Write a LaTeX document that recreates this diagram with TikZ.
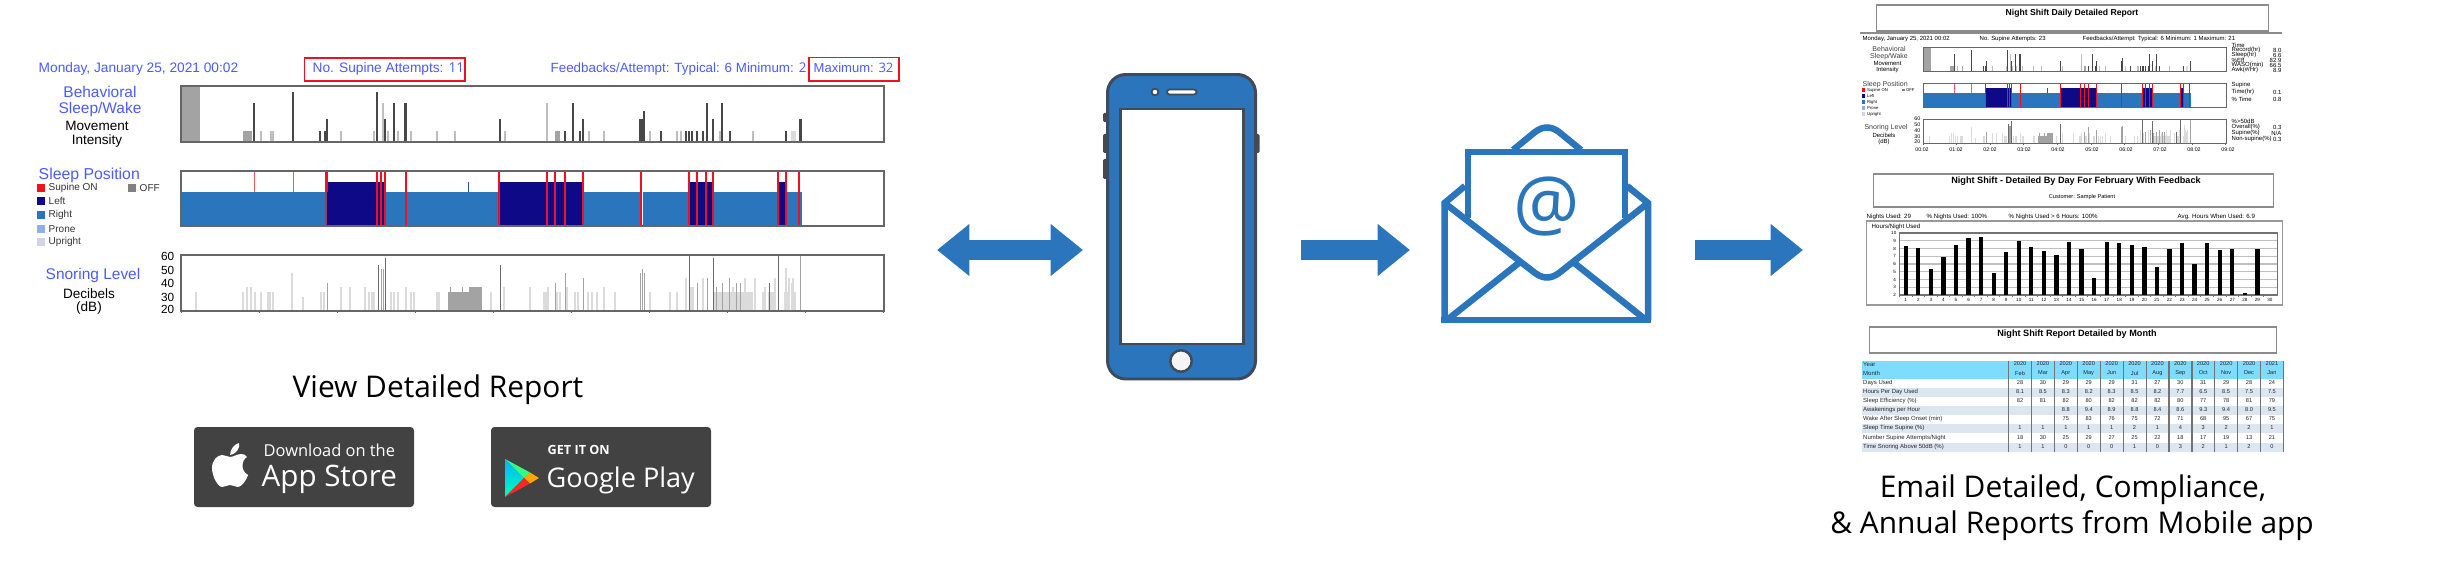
\documentclass[tikz,border=0pt]{standalone}
\usepackage{fontspec}
\setmainfont{Liberation Sans}
\newfontfamily\opensans{Open Sans}
\usetikzlibrary{positioning, calc, arrows.meta}

\definecolor{flowblue}{HTML}{2A75BB}
\definecolor{phonedark}{HTML}{3F4A5A}
\definecolor{labelblue}{HTML}{4A5BFF}
\definecolor{leftnavy}{HTML}{0E0A87}
\definecolor{supinered}{HTML}{F20F1E}
\definecolor{offgrey}{HTML}{808080}
\definecolor{proneblue}{HTML}{8FB0E0}
\definecolor{uprightgrey}{HTML}{D0D4E4}
\definecolor{badgegrey}{HTML}{424242}
\definecolor{headcyan}{HTML}{7FDCFF}
\definecolor{bandblue}{HTML}{DCE6F1}

\newcommand{\pxfont}[1]{\fontsize{#1}{#1}\selectfont}

\tikzset{
	txt/.style={inner sep=0, align=center},
	chartframe/.style={draw=black!60, line width=.4pt},
	barlight/.style={fill=black!14},
	barmid/.style={fill=black!36},
	bardark/.style={fill=black!72},
	bigarrow/.style={draw=flowblue, line width=5.97pt, -{Triangle[length=9.2pt, width=14.2pt]}},
	phonepart/.style={draw=phonedark, line width=.85pt},
	mailline/.style={draw=flowblue, line width=1.85pt, line join=miter},
	reportbox/.style={draw=black!45, line width=.3pt},
	badge/.style={fill=badgegrey, rounded corners=1pt},
}

% the three charts of the sleep report, in reference pixels
\newcommand{\nightcharts}{
	% movement
	\fill[barmid] (181,86) rectangle (200,142);
	\fill[barmid] (243,131) rectangle (252,142);
	\fill[barmid] (555,131) rectangle (560,142);
	\fill[barlight] (791,131) rectangle (796,142);
	\foreach \x/\t in {261/131,271/131,273/131,341/131,374/131,383/103,388/131,398/131,411/131,437/131,455/131,505/131,547/103,589/131,604/131,650/131,677/131,681/131,720/131,753/131} {
		\fill[barmid, opacity=.7] (\x-.6,\t) rectangle (\x+.6,142);
	}
	\foreach \x/\t in {254/103,293/92,320/131,325/131,327/119,377/92,385/119,394/103,405/103,406/103,500/119,565/131,573/103,580/131,583/119,640/119,642/119,644/111,661/131,686/131,689/131,692/131,697/131,703/131,707/103,713/119,722/103,730/131,786/131,800/119,801/119} {
		\fill[bardark] (\x-.7,\t) rectangle (\x+.7,142);
	}
	\draw[chartframe] (181,86) rectangle (884,142);
	% position
	\fill[flowblue] (181,192) rectangle (640,226);
	\fill[flowblue] (643,192) rectangle (802,226);
	\foreach \xa/\xb in {327/385,499/583,688/713,778/786} {
		\fill[leftnavy] (\xa,182) rectangle (\xb,226);
	}
	\fill[flowblue!70!leftnavy] (467.5,182) rectangle (468.5,192);
	\foreach \x in {254,293} {
		\fill[supinered!70] (\x-.5,172) rectangle (\x+.5,192);
	}
	\fill[supinered] (325,172) rectangle (328,192);
	\fill[supinered!60!flowblue] (325,192) rectangle (327,226);
	\foreach \x in {377,381,385,406,499,547,555,565,583,641,689,697,706,713,778,786,799} {
		\fill[supinered] (\x-.7,172) rectangle (\x+.7,226);
	}
	\draw[chartframe] (181,171) rectangle (884,226);
	% snoring
	\foreach \x/\t in {196/292,243/292,247/287,251/287,255/292,261/292,268/292,270/292,273/292,292/273,303/297,321/292,324/292,341/287,350/287,365/287,369/292,372/292,374/292,391/292,394/292,398/292,406/287,411/292,414/292,437/292,439/292,491/292,504/287,530/287,544/292,546/292,548/287,557/292,560/292,567/287,575/292,578/292,588/292,592/292,597/292,604/287,615/292,650/292,670/292,677/292,686/278,691/287,693/287,703/278,733/287,745/278,755/278,765/287,775/278,785/292,787/292,789/278,793/278,763/292,786/268,792/283,795/292} {
		\fill[barlight] (\x-.6,\t) rectangle (\x+.6,311);
	}
	\fill[barlight] (714,292) rectangle (753,311);
	\fill[barlight] (544,292) rectangle (549,311);
	\fill[barlight] (768,292) rectangle (775,311);
	\fill[barmid] (448,292) rectangle (469,311);
	\fill[barmid] (469,287) rectangle (482,311);
	\foreach \x/\t in {327/283,381/269,383/269,450/287,462/287,555/283,565/273,583/278,640/273,642/269,644/273,697/283,707/278,716/287,722/283,729/278,736/283,740/283,800/255} {
		\fill[barmid] (\x-.5,\t) rectangle (\x+.5,311);
	}
	\foreach \x/\t in {378/265,385/258,500/265,689/255,713/258,769/283,778/255} {
		\fill[black!58] (\x-.4,\t) rectangle (\x+.4,311);
	}
	\draw[chartframe] (181,255) rectangle (884,311);
	\foreach \k in {0,...,9} {
		\draw[black!60, line width=.25pt] ({181+78*\k},311) -- ({181+78*\k},312.5);
	}
}

\begin{document}
\begin{tikzpicture}[x=.01cm, y=-.01cm]
	\useasboundingbox (0,0) rectangle (2440,570);

	% left report
	\node[txt, anchor=base west, labelblue] (dateMain) at (38,73) {\pxfont{3.9}Monday, January 25, 2021 00:02};
	\node[txt, anchor=base west, labelblue] (attemptsMain) at (312,73) {\pxfont{3.9}No. Supine Attempts: {\opensans 11}};
	\node[txt, anchor=base west, labelblue] (feedbackMain) at (550,73) {\pxfont{3.8}Feedbacks/Attempt: Typical: 6 Minimum: {\opensans 2}};
	\node[txt, anchor=base west, labelblue] (maximumMain) at (813,73) {\pxfont{3.7}Maximum: {\opensans 32}};
	\draw[draw=supinered, line width=.45pt] (304.5,58) rectangle (465,81);
	\draw[draw=supinered, line width=.45pt] (809,57.5) rectangle (899,81);

	\nightcharts

	\node[txt, labelblue, font=\pxfont{4.4}] (behaviourMain) at (100,101.5) {Behavioral\\Sleep/Wake};
	\node[txt, font=\pxfont{3.85}] (movementMain) at (97,134) {Movement\\Intensity};
	\node[txt, labelblue, anchor=west] (positionMain) at (38,175) {\pxfont{4.5}Sleep Position};
	\foreach \lab/\col/\y in {Supine ON/supinered/188,Left/leftnavy/201,Right/flowblue/215,Prone/proneblue/229,Upright/uprightgrey/242} {
		\fill[\col] (37,\y-3.7) rectangle (45,\y+3.7);
		\node[txt, anchor=west, black!80] (leg\col) at (48,\y) {\pxfont{2.85}\lab};
	}
	\fill[offgrey] (128,184.3) rectangle (135.5,191.7);
	\node[txt, anchor=west, black!80] (legoff) at (139,188) {\pxfont{2.85}OFF};
	\node[txt, labelblue] (snoringMain) at (93,275) {\pxfont{4.4}Snoring Level};
	\node[txt, font=\pxfont{3.85}] (decibelMain) at (89,301.5) {Decibels\\(dB)};
	\foreach \db/\y in {60/256,50/270,40/283,30/297,20/309} {
		\node[txt, anchor=east] (axis\db) at (175,\y) {\pxfont{3.35}\db};
	}

	\node[txt, anchor=base] (viewLabel) at (438,397) {\opensans\pxfont{8.5}View Detailed Report};

	% store badges
	\fill[badge] (194,427) rectangle (414,507);
	\begin{scope}[shift={(212-203*1.13,0)}, xscale=1.13]
		\fill[white] (219,457) .. controls (222,457) and (225,454) .. (229,454) .. controls (231,454) and (233,455) .. (234,457) .. controls (229,460) and (228,471) .. (235,475) .. controls (233,481) and (229,487) .. (226,487) .. controls (223,487) and (222,485) .. (219,485) .. controls (216,485) and (215,487) .. (212,487) .. controls (208,487) and (203,476) .. (203,468) .. controls (203,460) and (208,455) .. (212,455) .. controls (215,455) and (217,457) .. (219,457) -- cycle;
		\fill[white] (219,455) .. controls (219,449) and (223,444) .. (227,443) .. controls (228,449) and (224,454) .. (219,455) -- cycle;
	\end{scope}
	\node[txt, anchor=base west, white] (downloadLabel) at (263,456) {\opensans\pxfont{4.67}Download on the};
	\node[txt, anchor=base west, white] (appStoreLabel) at (261,486) {\opensans\pxfont{8.4}App Store};

	\fill[badge] (491,427) rectangle (711,507);
	\shade[top color=cyan!70!blue, bottom color=cyan!70!green] (505,459) -- (505,497) -- (524,478) -- cycle;
	\fill[green!60!cyan!80!white] (505,459) -- (530,472.5) -- (524,478) -- cycle;
	\fill[orange!70!yellow] (530,472.5) -- (539,478) -- (530,483.5) -- (524,478) -- cycle;
	\fill[red!80!pink] (505,497) -- (530,483.5) -- (524,478) -- cycle;
	\node[txt, anchor=base west, white] (getItLabel) at (547,454) {\opensans\bfseries\pxfont{3.6}GET IT ON};
	\node[txt, anchor=base west, white] (googleLabel) at (546,487) {\opensans\pxfont{7.7}Google Play};

	% arrows
	\coordinate (arrowAl) at (937,250);
	\coordinate (arrowAr) at (1083,250);
	\coordinate (arrowBl) at (1301,250);
	\coordinate (arrowBr) at (1410,250);
	\coordinate (arrowCl) at (1695,250);
	\coordinate (arrowCr) at (1803,250);
	\draw[bigarrow, {Triangle[length=9.2pt, width=14.2pt]}-{Triangle[length=9.2pt, width=14.2pt]}] (arrowAl) -- (arrowAr);
	\draw[bigarrow] (arrowBl) -- (arrowBr);
	\draw[bigarrow] (arrowCl) -- (arrowCr);

	% phone
	\foreach \ya/\yb in {113/122,134/153,159/179} {
		\fill[phonedark, rounded corners=.4pt] (1103,\ya) rectangle (1108,\yb);
	}
	\fill[phonedark, rounded corners=.4pt] (1255,134) rectangle (1259.5,153);
	\draw[phonepart, fill=flowblue, rounded corners=5.2pt] (1107.5,74.5) rectangle (1255.5,379);
	\draw[phonepart, fill=white] (1120.5,109) rectangle (1243,344);
	\draw[phonepart, fill=white, line width=.5pt] (1155,92) circle [radius=.95pt];
	\draw[phonepart, fill=white, line width=.5pt, rounded corners=.7pt] (1167,89.5) rectangle (1196.5,94.5);
	\draw[phonepart, fill=black!4, line width=.7pt] (1181,361) circle [radius=3.05pt];

	% envelope
	\draw[mailline] (1444.5,320) -- (1444.5,203) -- (1465,186);
	\draw[mailline] (1648,320) -- (1648,203) -- (1627,186);
	\draw[mailline] (1441,320) -- (1651,320);
	\draw[mailline] (1468,218) -- (1468,152) -- (1625,152) -- (1625,218);
	\draw[mailline, line join=round] (1513,150) -- (1535,132) .. controls (1543,126) and (1551,126) .. (1559,132) -- (1581,150);
	\draw[mailline] (1444.5,203) -- (1535,273) .. controls (1543,279) and (1551,279) .. (1559,273) -- (1648,203);
	\draw[mailline] (1447,320) -- (1520,262);
	\draw[mailline] (1646,320) -- (1573,262);
	\node[txt, flowblue] (atSign) at (1546.5,207) {\opensans\pxfont{21}@};

	% daily report
	\draw[reportbox] (1876,5) rectangle (2268,31);
	\node[txt] (dailyTitle) at (2072,13) {\pxfont{2.45}\bfseries Night Shift Daily Detailed Report};
	\draw[black!45, line width=.35pt] (1860,33) -- (2282,33);
	\node[txt, anchor=west] (dailyDate) at (1862,39) {\pxfont{1.7}Monday, January 25, 2021 00:02};
	\node[txt, anchor=west] (dailyAttempts) at (1979,39) {\pxfont{1.7}No. Supine Attempts: 23};
	\node[txt, anchor=west] (dailyFeedback) at (2082,39) {\pxfont{1.7}Feedbacks/Attempt: Typical: 6 Minimum: 1 Maximum: 21};

	\begin{scope}[shift={(1923-181*.431,47-86*.43)}, xscale=.431, yscale=.43, chartframe/.style={draw=black!60, line width=.25pt}]
		\nightcharts
	\end{scope}

	\node[txt, black!75, font=\pxfont{2}] (dailyBehaviour) at (1889,53) {Behavioral\\Sleep/Wake};
	\node[txt, font=\pxfont{1.7}] (dailyMovement) at (1887.5,67) {Movement\\Intensity};
	\node[txt, black!75, anchor=west] (dailyPosition) at (1862,85) {\pxfont{2}Sleep Position};
	\foreach \lab/\col/\y in {Supine ON/supinered/90,Left/leftnavy/96,Right/flowblue/102,Prone/proneblue/108,Upright/uprightgrey/114} {
		\fill[\col] (1862,\y-1.6) rectangle (1865.4,\y+1.6);
		\node[txt, anchor=west] (daily\col) at (1866.5,\y) {\pxfont{1.2}\lab};
	}
	\fill[offgrey] (1902,88.6) rectangle (1904.5,91.4);
	\node[txt, anchor=west] (dailyoff) at (1905.3,90) {\pxfont{1.2}OFF};
	\node[txt, black!75] (dailySnoring) at (1886,128) {\pxfont{2}Snoring Level};
	\node[txt, font=\pxfont{1.7}] (dailyDecibel) at (1884,139) {Decibels\\(dB)};
	\foreach \db/\y in {60/119,50/125,40/131,30/137,20/142} {
		\node[txt, anchor=east] (dailyaxis\db) at (1921,\y) {\pxfont{1.5}\db};
	}
	\foreach \hr [count=\k from 0] in {00,01,02,03,04,05,06,07,08,09} {
		\node[txt] (dailytime\hr) at ({1922+34*\k},150) {\pxfont{1.5}\hr:02};
	}
	\foreach \id/\lab/\val/\y in {a/Time/{}/45,b/Record(hr)/8.0/50,c/Sleep(hr)/6.6/55,d/\%Eff/82.9/60,e/WASO(min)/66.5/65,f/{Awk(\#/Hr)}/8.9/70,g/Supine/{}/85,h/Time(hr)/0.1/92,i/\% Time/0.8/99,j/\%>50dB/{}/121,k/Overall(\%)/0.3/127,l/Supine(\%)/{N/A}/133,m/Non-supine(\%)/0.3/139} {
		\node[txt, anchor=west] (stat\id) at (2231,\y) {\pxfont{1.7}\lab};
		\node[txt, anchor=east] (val\id) at (2282,\y) {\pxfont{1.7}\val};
	}

	% compliance report
	\draw[reportbox] (1873,174) rectangle (2273,207);
	\node[txt] (dayTitle) at (2076,181) {\pxfont{2.6}\bfseries Night Shift - Detailed By Day For February With Feedback};
	\node[txt] (dayCustomer) at (2082,197) {\pxfont{1.6}Customer: Sample Patient};
	\node[txt, anchor=west] (nightsUsed) at (1866,217) {\pxfont{1.75}Nights Used: 29};
	\node[txt, anchor=west] (nightsPercent) at (1926,217) {\pxfont{1.75}\% Nights Used: 100\%};
	\node[txt, anchor=west] (nightsSix) at (2008,217) {\pxfont{1.75}\% Nights Used > 6 Hours: 100\%};
	\node[txt, anchor=west] (avgHours) at (2177,217) {\pxfont{1.75}Avg. Hours When Used: 6.9};
	\draw[black!40, line width=.3pt] (1866,221) rectangle (2282,305);
	\node[txt, anchor=west] (hoursTitle) at (1871,227) {\pxfont{1.75}Hours/Night Used};
	\foreach \h in {2,...,10} {
		\draw[black!25, line width=.35pt] (1899,{295-(\h-2)*7.75}) -- (2277,{295-(\h-2)*7.75});
		\node[txt, anchor=east] (hourlab\h) at (1897,{295-(\h-2)*7.75}) {\pxfont{1.3}\h};
	}
	\draw[black!55, line width=.3pt] (1899,233) rectangle (2277,295);
	\foreach \v [count=\d] in {8.3,8.1,5.4,6.9,8.4,9.3,9.5,4.9,7.6,9.0,8.2,7.7,7.1,8.9,7.9,4.2,8.8,8.7,8.5,8.2,5.6,8.0,8.7,6.0,8.7,7.8,8.0,2.3,8.0} {
		\fill[black] ({1905.7+(\d-1)*12.56-2.15},{295-(\v-2)*7.75}) rectangle ({1905.7+(\d-1)*12.56+2.15},295);
	}
	\foreach \d in {1,...,30} {
		\node[txt] (daylab\d) at ({1905.7+(\d-1)*12.56},300) {\pxfont{1.3}\d};
		\draw[black!55, line width=.25pt] ({1899.4+(\d-1)*12.56},295) -- ({1899.4+(\d-1)*12.56},297);
	}

	% annual report
	\draw[reportbox] (1869,327) rectangle (2276,353);
	\node[txt] (monthTitle) at (2077,334) {\pxfont{2.6}\bfseries Night Shift Report Detailed by Month};
	\fill[headcyan] (1862,361) rectangle (2283,379);
	\foreach \y in {387.5,405.5,423.5,442.5} {
		\fill[bandblue] (1862,\y) rectangle (2283,\y+9.2);
	}
	\foreach \k in {0,...,12} {
		\draw[black!55, line width=.35pt] ({2008.7+22.9*\k},361) -- ({2008.7+22.9*\k},452);
	}
	\foreach \id/\y/\lab/\vals in {
		a/364/Year/{2020,2020,2020,2020,2020,2020,2020,2020,2020,2020,2020,2021},
		b/373/Month/{Feb,Mar,Apr,May,Jun,Jul,Aug,Sep,Oct,Nov,Dec,Jan},
		c/383/Days Used/{28,30,29,29,29,31,27,30,31,29,28,24},
		d/392/Hours Per Day Used/{8.1,8.5,8.3,8.2,8.3,8.5,8.2,7.7,6.5,8.5,7.5,7.5},
		e/401/Sleep Efficiency (\%)/{82,81,82,80,82,82,82,80,77,78,81,79},
		f/410/Awakenings per Hour/{{},{},8.8,9.4,8.9,8.8,8.4,8.6,9.3,9.4,8.0,9.5},
		g/419/Wake After Sleep Onset (min)/{{},{},75,83,76,75,72,71,68,95,67,75},
		h/428/Sleep Time Supine (\%)/{1,1,1,1,1,2,1,4,3,2,2,1},
		i/438/{Number Supine Attempts/Night}/{18,30,25,29,27,25,22,18,17,19,13,21},
		j/447/Time Snoring Above 50dB (\%)/{1,1,0,0,0,1,0,3,2,1,2,0}} {
		\node[txt, anchor=west, black!85] (row\id) at (1862.5,\y) {\pxfont{1.7}\lab};
		\foreach \v [count=\c] in \vals {
			\node[txt, black!85] (cell\id\c) at ({2020+22.9*(\c-1)},\y) {\pxfont{1.6}\v};
		}
	}

	\node[txt, anchor=base] (emailLineA) at (2073,497) {\opensans\pxfont{8.5}Email Detailed, Compliance,};
	\node[txt, anchor=base] (emailLineB) at (2072,533) {\opensans\pxfont{8.5}\& Annual Reports from Mobile app};
\end{tikzpicture}
\end{document}
